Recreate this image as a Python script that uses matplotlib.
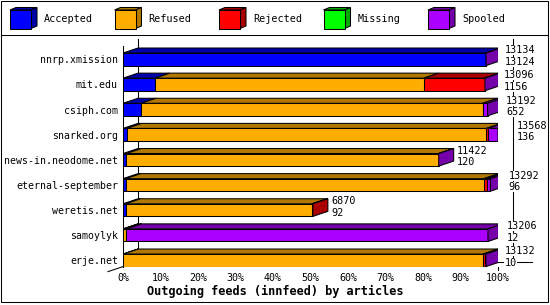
import numpy as np
import matplotlib.pyplot as plt
from matplotlib.patches import Polygon, Rectangle
from matplotlib.lines import Line2D

plt.rcParams['font.family'] = ['DejaVu Sans Mono']

# feeds, top to bottom
feeds = ["nnrp.xmission", "mit.edu", "csiph.com", "snarked.org",
         "news-in.neodome.net", "eternal-september", "weretis.net",
         "samoylyk", "erje.net"]
offered = [13134, 13096, 13192, 13568, 11422, 13292, 6870, 13206, 13132]
accepted = [13124, 1156, 652, 136, 120, 96, 92, 12, 10]
refused = [0, 9730, 12360, 13012, 11297, 12957, 6748, 110, 13015]
rejected = [0, 2200, 0, 50, 0, 108, 30, 0, 55]
missing = [0, 0, 0, 0, 0, 0, 0, 0, 0]
spooled = [10, 10, 180, 370, 5, 131, 0, 13084, 52]

names = ["Accepted", "Refused", "Rejected", "Missing", "Spooled"]
faces = ["#0000ff", "#ffad00", "#ff0000", "#00ff00", "#aa00ff"]
darks = ["#0000aa", "#b07800", "#aa0000", "#00aa00", "#7500aa"]
ticks = [0, 10, 20, 30, 40, 50, 60, 70, 80, 90, 100]

W, H = 550, 305
fig = plt.figure(figsize=(W / 100, H / 100), dpi=100)
ax = fig.add_axes([123 / W, (H - 266.5) / H, 375 / W, (266.5 - 46) / H])

rows = np.arange(len(feeds))
top = max(offered)
h = 0.5      # bar height (rows)
dx = 4.0     # depth in %
dy = 0.2     # depth in rows
lw = 0.75

# back wall / floor lines
kw = dict(color='black', lw=lw, clip_on=False, zorder=1)
ax.plot([dx, dx], [-0.81, 8.05], **kw)
ax.plot([100 + dx, 100 + dx], [-0.81, 8.05], **kw)
ax.plot([dx, 109], [8.05, 8.05], **kw)
ax.plot([-4, dx], [8.45, 8.05], **kw)
ax.plot([100, 100], [8.246, 8.40], **kw)

series = [accepted, refused, rejected, missing, spooled]
left = np.zeros(len(feeds))
last = [None] * len(feeds)
for vals, face, dark in zip(series, faces, darks):
    w = np.array(vals) / top * 100
    ax.barh(rows, w, left=left, height=h, color=face, edgecolor='black',
            linewidth=lw, zorder=3)
    for r in rows:
        if w[r] <= 0:
            continue
        yt = r - h / 2
        l = left[r]
        ax.add_patch(Polygon([(l, yt), (l + w[r], yt), (l + w[r] + dx, yt - dy),
                              (l + dx, yt - dy)], closed=True, facecolor=dark,
                             edgecolor='black', lw=lw, zorder=3))
        last[r] = dark
    left = left + w

# right side faces and value labels
for r in rows:
    e = left[r]
    yt, yb = r - h / 2, r + h / 2
    ax.add_patch(Polygon([(e, yt), (e + dx, yt - dy), (e + dx, yb - dy), (e, yb)],
                         closed=True, facecolor=last[r], edgecolor='black',
                         lw=lw, zorder=4))
    bb = dict(facecolor='white', edgecolor='none', pad=0)
    ax.text(e + dx + 0.9, r - 0.36, str(offered[r]), ha='left', va='center',
            fontsize=7.3, bbox=bb, zorder=5)
    ax.text(e + dx + 0.9, r + 0.1, str(accepted[r]), ha='left', va='center',
            fontsize=7.3, bbox=bb, zorder=5)

ax.set_xlim(0, 100)
ax.set_ylim(8.246, -0.53)
ax.set_xticks(ticks)
ax.set_xticklabels([f"{t}%" for t in ticks], fontsize=7.2)
ax.set_yticks(rows)
ax.set_yticklabels(feeds, fontsize=7.1)
ax.tick_params(axis='both', length=0)
ax.tick_params(axis='x', pad=4.5)
ax.tick_params(axis='y', pad=3.6)
for s in ['top', 'right', 'bottom']:
    ax.spines[s].set_visible(False)
ax.spines['left'].set_linewidth(lw)
ax.patch.set_alpha(0)

fig.text(0.5, (H - 291.5) / H, "Outgoing feeds (innfeed) by articles",
         ha='center', va='center', fontsize=8.6, fontweight='bold')

# legend strip
lax = fig.add_axes([0, (H - 35) / H, 1, 35 / H])
lax.set_xlim(0, W)
lax.set_ylim(35, 0)
lax.axis('off')
for i, (name, face, dark) in enumerate(zip(names, faces, darks)):
    x0 = 10 + i * 104.5
    lax.add_patch(Polygon([(x0, 10), (x0 + 21, 10), (x0 + 27, 7.5), (x0 + 6, 7.5)],
                          closed=True, facecolor=dark, edgecolor='black', lw=lw))
    lax.add_patch(Polygon([(x0 + 21, 10), (x0 + 27, 7.5), (x0 + 27, 26), (x0 + 21, 28.5)],
                          closed=True, facecolor=dark, edgecolor='black', lw=lw))
    lax.add_patch(Rectangle((x0, 10), 21, 18.5, facecolor=face,
                            edgecolor='black', lw=lw))
    lax.text(x0 + 34, 19.5, name, ha='left', va='center', fontsize=7.3)

fig.patches.append(Rectangle((1 / W, 3 / H), 547 / W, 301 / H, transform=fig.transFigure,
                             fill=False, edgecolor='black', lw=lw))
fig.add_artist(Line2D([1 / W, 548 / W], [(H - 35) / H] * 2, transform=fig.transFigure,
                      color='black', lw=lw))

fig.savefig("out.png", dpi=100)
